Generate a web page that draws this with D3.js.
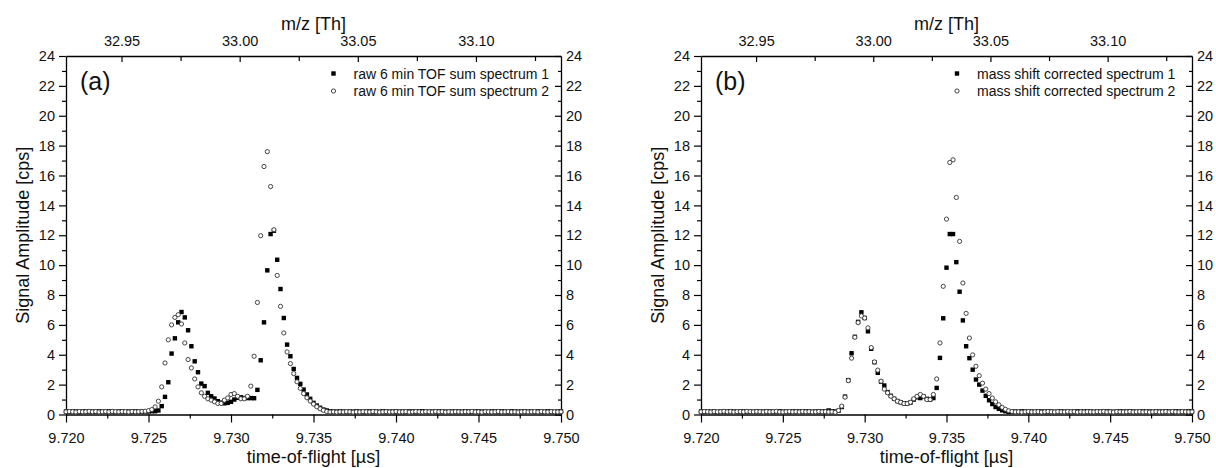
<!DOCTYPE html>
<html><head><meta charset="utf-8">
<script src="https://cdn.jsdelivr.net/npm/d3@7/dist/d3.min.js"></script>
<style>
body{margin:0;background:#fff}
text{font-family:"Liberation Sans",Arial,sans-serif;fill:#111}
</style>
</head><body>
<svg id="chart" width="1216" height="468"></svg>
<script>
// ---- data ----
const tofStart = 9.720, tofStep = 0.0002;      // sampling grid of the TOF spectra (µs)
const tofTicks = [9.720, 9.725, 9.730, 9.735, 9.740, 9.745, 9.750];
const tofMinorTicks = [9.7225, 9.7275, 9.7325, 9.7375, 9.7425, 9.7475];
const mzDomain = [32.9265, 33.136];
const mzTicks = [32.95, 33.00, 33.05, 33.10];
const mzMinorTicks = [32.975, 33.025, 33.075, 33.125];
const ampTicks = [0, 2, 4, 6, 8, 10, 12, 14, 16, 18, 20, 22, 24];
const ampMinorTicks = [1, 3, 5, 7, 9, 11, 13, 15, 17, 19, 21, 23];

const rawSpectrum1 = [
 0.20,0.18,0.21,0.20,0.17,0.20,0.22,0.19,0.20,0.18,
 0.21,0.20,0.19,0.22,0.20,0.18,0.20,0.21,0.19,0.20,
 0.18,0.21,0.20,0.19,0.21,0.20,0.22,0.22,0.27,0.56,
 1.18,2.16,4.08,5.10,6.17,6.86,6.50,5.64,4.57,3.56,
 2.83,2.07,1.90,1.45,1.22,1.07,0.89,0.80,0.75,0.78,
 0.85,1.00,1.12,1.15,1.10,1.10,1.10,1.09,1.65,3.63,
 6.17,9.65,12.08,12.30,10.36,8.40,6.46,4.68,3.90,3.05,
 2.45,2.05,1.67,1.34,1.05,0.78,0.60,0.45,0.33,0.27,
 0.22,0.20,0.19,0.21,0.20,0.18,0.20,0.19,0.21,0.20,
 0.18,0.20,0.21,0.19,0.20,0.18,0.22,0.20,0.19,0.20,
 0.21,0.19,0.20,0.18,0.20,0.21,0.19,0.20,0.22,0.20,
 0.18,0.20,0.19,0.21,0.20,0.19,0.18,0.20,0.21,0.20,
 0.19,0.22,0.20,0.18,0.20,0.21,0.19,0.20,0.18,0.21,
 0.20,0.19,0.21,0.20,0.18,0.22,0.20,0.19,0.20,0.21,
 0.19,0.20,0.18,0.21,0.20,0.19,0.22,0.20,0.18,0.20,
 0.21];
const rawSpectrum2 = [
 0.18,0.20,0.19,0.17,0.20,0.18,0.19,0.21,0.18,0.20,
 0.17,0.19,0.20,0.18,0.21,0.19,0.18,0.20,0.19,0.17,
 0.20,0.18,0.19,0.21,0.22,0.26,0.33,0.51,0.89,1.85,
 3.45,5.00,6.00,6.50,6.68,6.06,4.79,3.68,3.12,2.38,
 1.85,1.45,1.22,1.05,0.96,0.85,0.74,0.74,0.96,1.11,
 1.34,1.40,1.22,1.05,1.05,1.22,1.90,3.90,7.50,11.97,
 16.60,17.60,15.26,12.37,9.31,7.24,5.46,4.19,3.41,2.74,
 2.19,1.75,1.40,1.12,0.90,0.70,0.52,0.38,0.28,0.20,
 0.17,0.18,0.16,0.18,0.17,0.19,0.18,0.16,0.18,0.17,
 0.19,0.18,0.17,0.20,0.18,0.16,0.18,0.19,0.17,0.18,
 0.20,0.17,0.18,0.19,0.16,0.18,0.20,0.18,0.17,0.19,
 0.18,0.17,0.20,0.18,0.19,0.16,0.18,0.17,0.19,0.18,
 0.17,0.19,0.18,0.20,0.17,0.18,0.16,0.19,0.18,0.17,
 0.18,0.20,0.17,0.18,0.19,0.17,0.18,0.16,0.18,0.19,
 0.17,0.18,0.19,0.17,0.20,0.18,0.17,0.19,0.18,0.17,
 0.18];
const corrSpectrum1 = [
 0.20,0.18,0.21,0.19,0.20,0.17,0.21,0.20,0.19,0.22,
 0.20,0.18,0.20,0.21,0.19,0.20,0.18,0.21,0.20,0.19,
 0.21,0.20,0.18,0.20,0.22,0.19,0.20,0.18,0.21,0.20,
 0.20,0.19,0.21,0.20,0.18,0.20,0.21,0.19,0.22,0.27,
 0.22,0.20,0.25,0.50,1.20,2.30,4.10,5.20,6.20,6.84,
 6.46,5.57,4.40,3.50,2.79,2.20,1.94,1.50,1.25,1.05,
 0.90,0.82,0.75,0.73,0.80,1.00,1.15,1.10,1.20,1.05,
 1.00,1.10,1.78,3.79,6.44,9.83,12.08,12.08,10.20,8.22,
 6.30,4.57,3.77,3.00,2.34,2.00,1.60,1.25,0.95,0.70,
 0.50,0.38,0.28,0.22,0.18,0.19,0.20,0.18,0.21,0.20,
 0.19,0.20,0.18,0.21,0.20,0.19,0.22,0.20,0.18,0.20,
 0.21,0.19,0.20,0.18,0.20,0.21,0.19,0.20,0.22,0.20,
 0.18,0.20,0.19,0.21,0.20,0.19,0.18,0.20,0.21,0.20,
 0.19,0.22,0.20,0.18,0.20,0.21,0.19,0.20,0.18,0.21,
 0.20,0.19,0.21,0.20,0.18,0.22,0.20,0.19,0.20,0.21,
 0.20];
const corrSpectrum2 = [
 0.18,0.20,0.19,0.17,0.20,0.18,0.19,0.21,0.18,0.20,
 0.17,0.19,0.20,0.18,0.21,0.19,0.18,0.20,0.19,0.17,
 0.20,0.18,0.19,0.21,0.18,0.17,0.19,0.20,0.18,0.19,
 0.17,0.20,0.18,0.19,0.17,0.18,0.20,0.18,0.19,0.17,
 0.18,0.15,0.27,0.56,1.16,2.27,3.77,5.17,6.15,6.60,
 6.46,5.80,4.48,3.52,2.97,2.23,1.70,1.45,1.22,1.05,
 0.89,0.82,0.73,0.73,0.82,1.05,1.22,1.34,1.22,1.00,
 1.00,1.34,2.38,4.79,8.58,13.08,16.87,17.05,14.53,11.59,
 8.80,6.77,5.12,3.99,3.23,2.60,2.10,1.70,1.40,1.10,
 0.85,0.65,0.48,0.35,0.25,0.20,0.17,0.18,0.16,0.18,
 0.20,0.17,0.18,0.19,0.16,0.18,0.20,0.18,0.17,0.19,
 0.18,0.17,0.20,0.18,0.19,0.16,0.18,0.17,0.19,0.18,
 0.17,0.19,0.18,0.20,0.17,0.18,0.16,0.19,0.18,0.17,
 0.18,0.20,0.17,0.18,0.19,0.17,0.18,0.16,0.18,0.19,
 0.17,0.18,0.19,0.17,0.20,0.18,0.17,0.19,0.18,0.17,
 0.18];

const legendA = ["raw 6 min TOF sum spectrum 1", "raw 6 min TOF sum spectrum 2"];
const legendB = ["mass shift corrected spectrum 1", "mass shift corrected spectrum 2"];
const panelLabels = ["(a)", "(b)"];
const xTitle = "time-of-flight [µs]", yTitle = "Signal Amplitude [cps]", topTitle = "m/z [Th]";

// ---- layout ----
const svg = d3.select("#chart");
svg.append("rect").attr("width",1216).attr("height",468).attr("fill","#fff");
const TOP = 56, BOTTOM = 414.5;
const panels = [
  {left:66,  right:561,  s1:rawSpectrum1,  s2:rawSpectrum2,  legend:legendA, legendX:353.5, label:panelLabels[0]},
  {left:701, right:1192, s1:corrSpectrum1, s2:corrSpectrum2, legend:legendB, legendX:977,   label:panelLabels[1]}
];

const y = d3.scaleLinear().domain([0,24]).range([BOTTOM, TOP]);

function styleAxis(g, fs){
  g.selectAll("path.domain").attr("stroke","#000").attr("stroke-width",1.3);
  g.selectAll(".tick line").attr("stroke","#000").attr("stroke-width",1.2);
  g.selectAll(".tick text").attr("font-size",fs).attr("fill","#111")
    .attr("font-family",'"Liberation Sans",Arial,sans-serif');
  g.attr("font-family",null).attr("font-size",null);
}

panels.forEach(p => {
  const x = d3.scaleLinear().domain([9.720, 9.750]).range([p.left, p.right]);
  const xm = d3.scaleLinear().domain(mzDomain).range([p.left, p.right]);
  const g = svg.append("g");
  const FS = 14.5;

  // bottom
  g.append("g").attr("transform",`translate(0,${BOTTOM})`)
    .call(d3.axisBottom(x).tickValues(tofTicks).tickFormat(d3.format(".3f")).tickSize(8).tickSizeOuter(0).tickPadding(10))
    .call(a=>styleAxis(a,FS));
  g.append("g").attr("transform",`translate(0,${BOTTOM})`)
    .call(d3.axisBottom(x).tickValues(tofMinorTicks).tickFormat("").tickSize(4).tickSizeOuter(0))
    .call(a=>{styleAxis(a,FS); a.select(".domain").remove();});
  // top
  g.append("g").attr("transform",`translate(0,${TOP})`)
    .call(d3.axisTop(xm).tickValues(mzTicks).tickFormat(d3.format(".2f")).tickSize(-6).tickSizeOuter(0).tickPadding(10))
    .call(a=>styleAxis(a,FS));
  g.append("g").attr("transform",`translate(0,${TOP})`)
    .call(d3.axisTop(xm).tickValues(mzMinorTicks.filter(v=>v>mzDomain[0]&&v<mzDomain[1])).tickFormat("").tickSize(-5).tickSizeOuter(0))
    .call(a=>{styleAxis(a,FS); a.select(".domain").remove();});
  // left
  g.append("g").attr("transform",`translate(${p.left},0)`)
    .call(d3.axisLeft(y).tickValues(ampTicks).tickSize(7).tickSizeOuter(0).tickPadding(4))
    .call(a=>styleAxis(a,FS));
  g.append("g").attr("transform",`translate(${p.left},0)`)
    .call(d3.axisLeft(y).tickValues(ampMinorTicks).tickFormat("").tickSize(4).tickSizeOuter(0))
    .call(a=>{styleAxis(a,FS); a.select(".domain").remove();});
  // right
  g.append("g").attr("transform",`translate(${p.right},0)`)
    .call(d3.axisRight(y).tickValues(ampTicks).tickSize(-6).tickSizeOuter(0).tickPadding(5))
    .call(a=>styleAxis(a,FS));
  g.append("g").attr("transform",`translate(${p.right},0)`)
    .call(d3.axisRight(y).tickValues(ampMinorTicks).tickFormat("").tickSize(-3).tickSizeOuter(0))
    .call(a=>{styleAxis(a,FS); a.select(".domain").remove();});
  // extend left axis below for bottom tick
  // titles
  const cx = (p.left + p.right)/2;
  g.append("text").attr("x",cx).attr("y",463).attr("text-anchor","middle").attr("font-size",18).text(xTitle);
  g.append("text").attr("x",cx).attr("y",30).attr("text-anchor","middle").attr("font-size",18).text(topTitle);
  g.append("text").attr("transform",`translate(${p.left-37},${(TOP+BOTTOM)/2}) rotate(-90)`)
    .attr("text-anchor","middle").attr("font-size",18).text(yTitle);
  g.append("text").attr("x",p.left+14).attr("y",90).attr("font-size",25).text(p.label);

  // data
  const sq = 4.4;
  g.append("g").selectAll("rect").data(p.s1).join("rect")
    .attr("x",(d,i)=>x(tofStart+i*tofStep)-sq/2).attr("y",d=>y(d)-sq/2)
    .attr("width",sq).attr("height",sq).attr("fill","#000");
  g.append("g").selectAll("circle").data(p.s2).join("circle")
    .attr("cx",(d,i)=>x(tofStart+i*tofStep)).attr("cy",d=>y(d)).attr("r",2.1)
    .attr("fill","#fff").attr("stroke","#444").attr("stroke-width",1);

  // legend
  const ly = [73.5, 91];
  const mx = p.legendX - 20;
  g.append("rect").attr("x",mx-sq/2).attr("y",ly[0]-sq/2).attr("width",sq).attr("height",sq).attr("fill","#000");
  g.append("circle").attr("cx",mx).attr("cy",ly[1]).attr("r",2.1).attr("fill","#fff").attr("stroke","#444");
  p.legend.forEach((t,k)=>{
    g.append("text").attr("x",p.legendX).attr("y",ly[k]+5).attr("font-size",14).text(t);
  });
});
</script>
</body></html>
